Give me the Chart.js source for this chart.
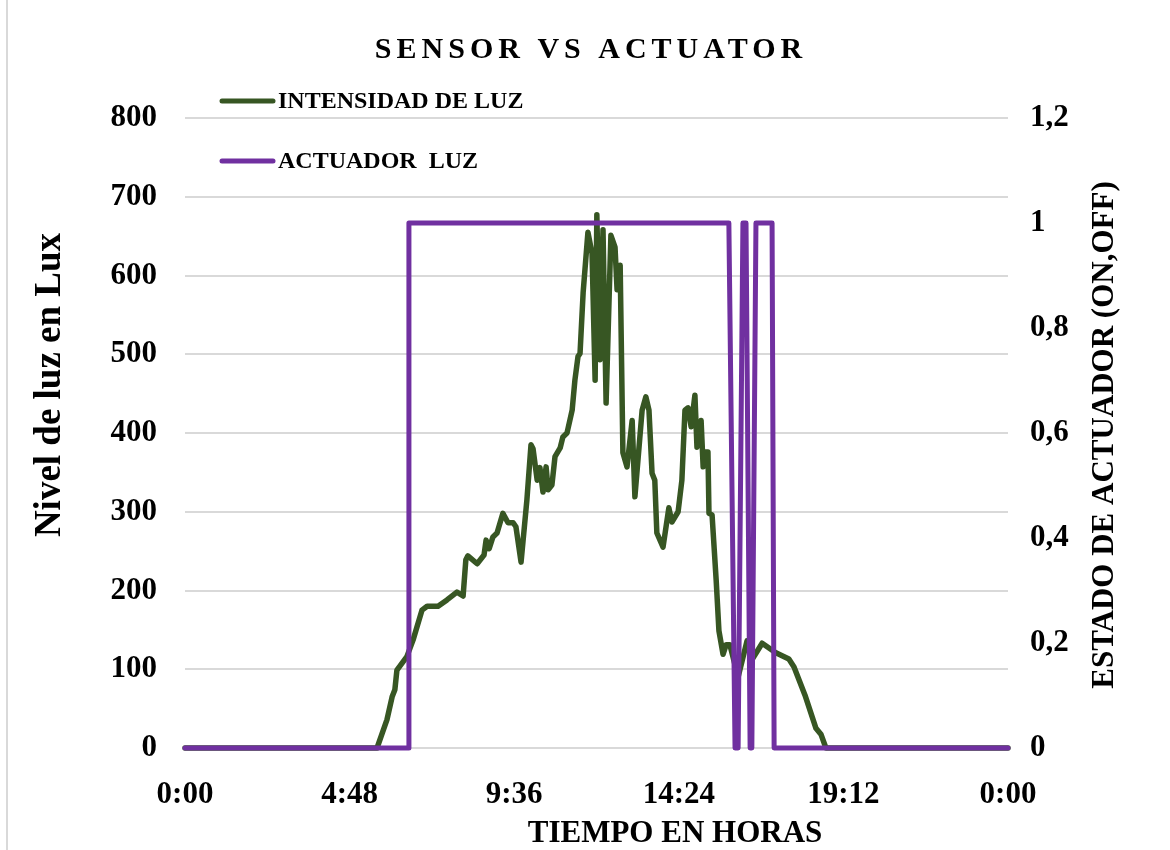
<!DOCTYPE html>
<html>
<head>
<meta charset="utf-8">
<title>Sensor vs Actuador</title>
<script src="https://cdn.jsdelivr.net/npm/chart.js@4.4.1/dist/chart.umd.min.js"></script>
<style>
  html, body { margin: 0; padding: 0; background: #fff; }
  #wrap { position: relative; width: 1170px; height: 850px; overflow: hidden; }
  #wrap::before { content: ""; position: absolute; left: 6px; top: 0; bottom: 0; border-left: 2px solid #d9d9d9; }
  canvas { display: block; }
</style>
</head>
<body>
<div id="wrap"><canvas id="chart" width="1170" height="850"></canvas></div>
<script>
// Data (hours since midnight)
const lightHours = [0, 5.6, 5.89, 6.04, 6.12, 6.18, 6.47, 6.65, 6.91, 7.06, 7.38, 7.64, 7.93, 8.11, 8.19, 8.25,
  8.52, 8.72, 8.78, 8.87, 8.98, 9.10, 9.27, 9.42, 9.57, 9.65, 9.80, 9.97, 10.09, 10.15, 10.27, 10.35, 10.44,
  10.53, 10.59, 10.70, 10.79, 10.94, 11.02, 11.14, 11.29, 11.37, 11.46, 11.52, 11.61, 11.75, 11.87, 11.96,
  12.01, 12.10, 12.19, 12.28, 12.42, 12.54, 12.60, 12.69, 12.77, 12.89, 13.04, 13.12, 13.33, 13.44, 13.53,
  13.62, 13.70, 13.76, 13.94, 14.11, 14.20, 14.38, 14.49, 14.58, 14.67, 14.76, 14.87, 14.93, 15.05, 15.11,
  15.16, 15.25, 15.28, 15.37, 15.49, 15.57, 15.69, 15.78, 15.89, 16.13, 16.39, 16.56, 16.83, 17.23, 17.61,
  17.76, 18.08, 18.40, 18.55, 18.69, 24];
const lightLux = [0, 0, 36, 65, 74, 99, 116, 137, 175, 180, 180, 188, 198, 193, 239, 244,
  234, 245, 264, 253, 268, 273, 298, 286, 286, 281, 236, 315, 385, 380, 340, 356, 325,
  357, 328, 334, 370, 381, 395, 400, 429, 467, 497, 501, 578, 655, 628, 467,
  677, 493, 658, 438, 651, 636, 582, 613, 375, 357, 416, 319, 429, 446, 429,
  349, 340, 273, 255, 305, 287, 300, 340, 429, 432, 408, 448, 382, 416, 357,
  376, 376, 298, 296, 213, 149, 119, 131, 131, 90, 136, 114, 133, 121, 113,
  103, 67, 25, 17, 0, 0];

const actHours = [0, 6.53, 6.53, 15.86, 16.04, 16.13, 16.27, 16.36, 16.48, 16.53, 16.65, 17.12, 17.18, 24];
const actState = [0, 0, 1, 1, 0, 0, 1, 1, 0, 0, 1, 1, 0, 0];

const xTickValues = [0, 4.8, 9.6, 14.4, 19.2, 24];
const xTickLabels = ['0:00', '4:48', '9:36', '14:24', '19:12', '0:00'];
const rightTickValues = [0, 0.2, 0.4, 0.6, 0.8, 1, 1.2];
const rightTickLabels = ['0', '0,2', '0,4', '0,6', '0,8', '1', '1,2'];

const SERIF = "'Liberation Serif', 'Times New Roman', serif";
const GREEN = '#375623';
const PURPLE = '#7030a0';

function toPoints(xs, ys) { return xs.map((x, i) => ({ x: x, y: ys[i] })); }

function rotatedText(ctx, text, x, y, font) {
  ctx.save();
  ctx.translate(x, y);
  ctx.rotate(-Math.PI / 2);
  ctx.textAlign = 'center';
  ctx.textBaseline = 'middle';
  ctx.font = font;
  ctx.fillText(text, 0, 0);
  ctx.restore();
}

/* ---------- title, legend and axis titles ---------- */
const decorPlugin = {
  id: 'decor',
  afterDraw(chart) {
    const ctx = chart.ctx;
    ctx.save();
    ctx.fillStyle = '#000';

    // title with spaced letters
    ctx.font = 'bold 30px ' + SERIF;
    ctx.textAlign = 'center';
    ctx.textBaseline = 'alphabetic';
    ctx.letterSpacing = '5px';
    ctx.fillText('SENSOR VS ACTUATOR', 591, 58);
    ctx.letterSpacing = '0px';

    // legend
    ctx.textAlign = 'left';
    ctx.textBaseline = 'middle';
    ctx.font = 'bold 24px ' + SERIF;
    ctx.lineCap = 'round';
    ctx.lineWidth = 5;
    const rows = [101, 161];
    chart.data.datasets.forEach((ds, i) => {
      ctx.strokeStyle = ds.borderColor;
      ctx.beginPath();
      ctx.moveTo(222, rows[i]);
      ctx.lineTo(273, rows[i]);
      ctx.stroke();
      ctx.fillText(ds.label, 278, rows[i] + 1);
    });

    // x axis title
    ctx.textAlign = 'center';
    ctx.font = 'bold 31px ' + SERIF;
    ctx.fillText('TIEMPO EN HORAS', 675, 834);

    // y axis titles, reading bottom to top
    rotatedText(ctx, 'Nivel de luz en Lux', 50, 385, 'bold 37px ' + SERIF);
    rotatedText(ctx, 'ESTADO DE ACTUADOR (ON,OFF)', 1105, 435, 'bold 31px ' + SERIF);
    ctx.restore();
  }
};

const tickFont = { family: SERIF, size: 31, weight: 'bold' };

new Chart(document.getElementById('chart'), {
  type: 'line',
  data: {
    datasets: [
      {
        label: 'INTENSIDAD DE LUZ',
        data: toPoints(lightHours, lightLux),
        yAxisID: 'y',
        borderColor: GREEN,
        borderWidth: 5.5,
        order: 1
      },
      {
        label: 'ACTUADOR  LUZ',
        data: toPoints(actHours, actState),
        yAxisID: 'y1',
        borderColor: PURPLE,
        borderWidth: 5,
        order: 0
      }
    ]
  },
  options: {
    responsive: false,
    animation: false,
    devicePixelRatio: 1,
    layout: { padding: { top: 118, left: 0, right: 0, bottom: 0 } },
    elements: {
      point: { radius: 0 },
      line: { tension: 0, borderJoinStyle: 'round', borderCapStyle: 'round' }
    },
    datasets: { line: { clip: false } },
    plugins: { legend: { display: false }, title: { display: false }, tooltip: { enabled: false } },
    scales: {
      x: {
        type: 'linear',
        min: 0,
        max: 24,
        afterBuildTicks(s) { s.ticks = xTickValues.map(v => ({ value: v })); },
        afterFit(s) { s.height = 102; },
        grid: { display: false },
        border: { display: false },
        ticks: {
          color: '#000',
          font: tickFont,
          padding: 20,
          maxRotation: 0,
          autoSkip: false,
          callback: (v, i) => xTickLabels[i]
        }
      },
      y: {
        position: 'left',
        min: 0,
        max: 800,
        afterFit(s) { s.width = 185; },
        grid: { color: '#d9d9d9', lineWidth: 2, drawTicks: false },
        border: { display: false },
        ticks: { stepSize: 100, color: '#000', font: tickFont, padding: 28 }
      },
      y1: {
        position: 'right',
        min: 0,
        max: 1.2,
        afterBuildTicks(s) { s.ticks = rightTickValues.map(v => ({ value: v })); },
        afterFit(s) { s.width = 162; },
        grid: { display: false, drawTicks: false },
        border: { display: false },
        ticks: { color: '#000', font: tickFont, padding: 22, callback: (v, i) => rightTickLabels[i] }
      }
    }
  },
  plugins: [decorPlugin]
});
</script>
</body>
</html>
